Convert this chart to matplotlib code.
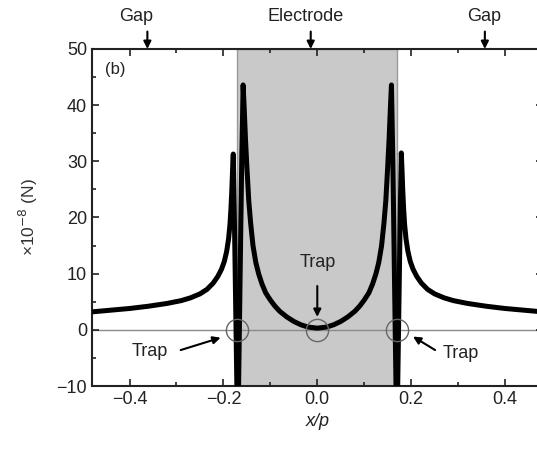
import matplotlib
matplotlib.use('Agg')
from matplotlib import pyplot as plt
from matplotlib.ticker import MultipleLocator

plt.rcParams['font.family'] = ['Liberation Sans', 'DejaVu Sans']

# force curve in the gap regions (left and right branch)
gap_left_x = [-0.48, -0.44, -0.40, -0.36, -0.32, -0.29, -0.27, -0.25, -0.235, -0.222,
              -0.212, -0.204, -0.198, -0.193, -0.189, -0.186, -0.184, -0.182, -0.1805, -0.179,
              -0.177, -0.171]
gap_left_y = [3.2, 3.5, 3.8, 4.2, 4.7, 5.2, 5.7, 6.4, 7.2, 8.3,
              9.5, 10.8, 12.2, 14.0, 16.2, 18.8, 21.5, 25.0, 28.5, 31.3,
              22.0, -12.0]
gap_right_x = [0.171, 0.177, 0.179, 0.1805, 0.182, 0.184, 0.186, 0.189, 0.193, 0.198,
               0.204, 0.212, 0.222, 0.235, 0.25, 0.27, 0.29, 0.32, 0.36, 0.40,
               0.44, 0.48]
gap_right_y = [-12.0, 22.0, 31.5, 28.5, 25.0, 21.5, 18.8, 16.2, 14.0, 12.2,
               10.8, 9.5, 8.3, 7.2, 6.4, 5.7, 5.2, 4.7, 4.2, 3.8,
               3.5, 3.2]

# force curve over the electrode
elec_x = [-0.168, -0.161, -0.158, -0.156, -0.153, -0.150, -0.146, -0.142, -0.137, -0.131,
          -0.125, -0.118, -0.11, -0.10, -0.09, -0.08, -0.065, -0.05, -0.035, -0.02,
          0.0,
          0.02, 0.035, 0.05, 0.065, 0.08, 0.09, 0.10, 0.11, 0.118, 0.125,
          0.131, 0.137, 0.142, 0.146, 0.150, 0.153, 0.156, 0.158, 0.161, 0.168]
elec_y = [-12.0, 30.0, 43.6, 40.0, 34.0, 29.0, 23.0, 19.0, 15.0, 12.0,
          10.0, 8.2, 6.6, 5.3, 4.2, 3.3, 2.3, 1.5, 0.9, 0.5,
          0.3,
          0.5, 0.9, 1.5, 2.3, 3.3, 4.2, 5.3, 6.6, 8.2, 10.0,
          12.0, 15.0, 19.0, 23.0, 29.0, 34.0, 40.0, 43.6, 30.0, -12.0]

electrode = (-0.17, 0.17)
trap_x = [-0.17, 0.0, 0.17]
trap_y = [0, 0, 0]

fig = plt.figure(figsize=(5.37, 4.49), dpi=100)
ax = fig.add_axes([0.1713, 0.1403, 0.8391, 0.7506])

ax.axvspan(electrode[0], electrode[1], facecolor='#c9c9c9', edgecolor='#9a9a9a', lw=1, zorder=0)
ax.axhline(0, color='#8a8a8a', lw=1, zorder=1)

for xs, ys in [(gap_left_x, gap_left_y), (gap_right_x, gap_right_y), (elec_x, elec_y)]:
    ax.plot(xs, ys, color='black', lw=3.6, solid_capstyle='butt', solid_joinstyle='round', zorder=3)

ax.plot(trap_x, trap_y, 'o', ms=16, mfc='none', mec='#666666', mew=1, zorder=4)

ax.set_xlim(-0.48, 0.48)
ax.set_ylim(-10, 50)
ax.xaxis.set_minor_locator(MultipleLocator(0.1))
ax.yaxis.set_minor_locator(MultipleLocator(5))
ax.tick_params(which='both', direction='in', top=True, right=True, labelsize=13,
               colors='#222222', width=1.2)
ax.tick_params(which='major', length=5)
ax.tick_params(which='minor', length=3)
ax.set_xticks([-0.4, -0.2, 0.0, 0.2, 0.4])
ax.set_xticklabels(['\u22120.4', '\u22120.2', '0.0', '0.2', '0.4'])
ax.set_yticks([-10, 0, 10, 20, 30, 40, 50])
ax.set_yticklabels(['\u221210', '0', '10', '20', '30', '40', '50'])
for s in ax.spines.values():
    s.set_linewidth(1.5)
    s.set_color('#222222')

ax.set_xlabel('x/p', fontsize=13, style='italic', color='#222222', labelpad=4)
ax.set_ylabel('\u00d710$^{-8}$ (N)', fontsize=12.5, color='#333333', labelpad=12)

ax.text(-0.43, 46.3, '(b)', fontsize=12, ha='center', va='center', color='#222222')

arrow = dict(arrowstyle='-|>', color='black', lw=1.5, shrinkA=0, shrinkB=0, mutation_scale=11)

# trap labels and their arrows
ax.text(0.0, 11.9, 'Trap', ha='center', va='center', fontsize=13, color='#222222')
ax.annotate('', xy=(0.0, 2.3), xytext=(0.0, 7.8), arrowprops=arrow)
ax.text(-0.357, -3.9, 'Trap', ha='center', va='center', fontsize=13, color='#222222')
ax.annotate('', xy=(-0.206, -1.4), xytext=(-0.291, -3.6), arrowprops=arrow)
ax.text(0.306, -4.3, 'Trap', ha='center', va='center', fontsize=13, color='#222222')
ax.annotate('', xy=(0.204, -1.2), xytext=(0.251, -3.6), arrowprops=arrow)

# region labels above the frame
for lbl, tx, ax_x in [('Gap', -0.387, -0.362), ('Electrode', -0.025, -0.014), ('Gap', 0.356, 0.357)]:
    ax.text(tx, 55.8, lbl, ha='center', va='center', fontsize=13, color='#222222', clip_on=False)
    ax.annotate('', xy=(ax_x, 50), xytext=(ax_x, 53.1), arrowprops=arrow, annotation_clip=False)

fig.savefig('out.png', dpi=100)
